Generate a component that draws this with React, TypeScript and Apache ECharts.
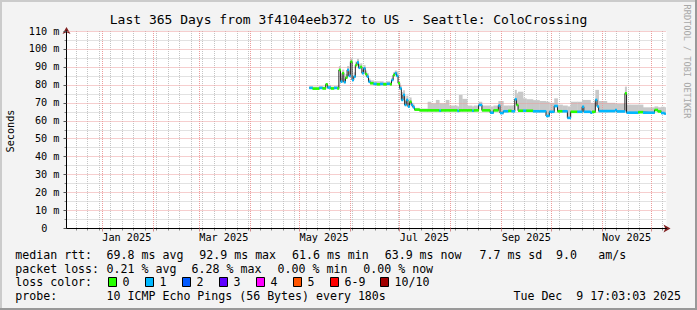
import React, { useEffect, useRef } from 'react';
import * as echarts from 'echarts';

// ---------- time frame (days counted from 2025-01-01, UTC) ----------
const DAY_MS = 86400000;
const T0 = Date.UTC(2025, 0, 1);
const X_START_DAY = -21.7;
const X_SPAN_DAYS = 365;
const DATA_END_DAY = 342.71;

const monthStartDays = [0, 31, 59, 90, 120, 151, 181, 212, 243, 273, 304, 334];
const monthLabelDays = [0, 59, 120, 181, 243, 304];
const monthLabels = ['Jan 2025', 'Mar 2025', 'May 2025', 'Jul 2025', 'Sep 2025', 'Nov 2025'];
const firstWeekDay = -16;
const yMinorTicks = [5, 15, 25, 35, 45, 55, 65, 75, 85, 95, 105];

// ---------- samples: start day of each segment, median rtt (ms), loss level, smoke top (ms) ----------
const segDay = [
  126, 128, 132, 134, 136, 137, 139, 141, 143, 144, 145, 146, 147, 148, 149, 150, 151, 152, 153, 154,
  155, 156, 157, 158, 159, 160, 161, 162, 163, 165, 167, 169, 171, 173, 175, 176, 177, 178, 179, 180,
  181, 182, 183, 184, 185, 186, 187, 188, 189, 190,
  193, 198, 200, 203, 205, 206, 209, 211, 216, 217, 219, 222, 225, 226, 229, 231, 236, 238, 241, 242,
  244, 247, 249, 251, 252, 253, 256, 258, 262, 266, 270, 272, 275, 277, 280, 283, 285, 289, 292, 293,
  297, 298, 300, 301, 302, 307, 312, 313, 318, 319, 321, 326, 329, 336, 338, 340, 342,
];
const medianMs = [
  78.3, 77.9, 78.3, 78.0, 80.3, 78.5, 78.0, 78.3, 78.0, 88.3, 81.8, 86.5, 81.5, 84.0, 88.3, 85.0, 92.9, 82.7, 84.6, 91.0,
  92.5, 89.5, 90.0, 86.5, 89.2, 86.0, 84.6, 81.8, 80.9, 80.5, 80.3, 80.5, 80.3, 80.6, 80.3, 82.7, 85.5, 86.5, 85.0, 80.9,
  78.0, 71.6, 74.4, 68.8, 71.6, 67.9, 70.6, 68.8, 67.5, 66.2,
  65.8, 65.8, 65.8, 65.8, 65.6, 65.8, 65.8, 65.8, 65.5, 65.8, 65.8, 65.8, 65.6, 65.8, 68.8, 65.8, 64.5, 65.8, 68.5, 64.3,
  65.3, 65.5, 65.3, 72.0, 68.8, 65.6, 65.6, 65.6, 65.3, 65.3, 62.7, 65.0, 68.2, 65.3, 65.3, 61.6, 65.0, 65.0, 67.8, 65.0,
  64.5, 65.0, 71.6, 68.0, 65.4, 65.4, 66.0, 65.2, 75.3, 64.5, 64.5, 64.8, 64.5, 66.0, 65.2, 64.3, 63.9,
];
const lossLevel = [
  1, 0, 1, 0, 0, 1, 0, 1, 0, 0, 1, 0, 1, 0, 1, 1, 0, 1, 1, 0,
  1, 1, 0, 1, 1, 0, 1, 1, 0, 1, 0, 1, 0, 1, 0, 1, 0, 1, 1, 0,
  1, 1, 1, 1, 1, 1, 0, 1, 1, 0,
  0, 0, 0, 0, 1, 0, 0, 0, 1, 0, 0, 0, 1, 0, 1, 0, 1, 0, 1, 1,
  1, 0, 1, 1, 0, 0, 1, 0, 1, 1, 1, 1, 1, 0, 1, 1, 0, 1, 1, 1,
  1, 0, 1, 1, 1, 1, 1, 1, 0, 1, 1, 0, 1, 0, 0, 1, 1,
];
const smokeTopMs = [
  79.2, 79.0, 79.2, 79.0, 81.0, 80.0, 79.0, 79.2, 79.5, 90.5, 84.0, 88.5, 83.5, 86.0, 90.5, 87.5, 95.0, 85.0, 87.0, 93.0,
  94.5, 91.5, 92.0, 88.5, 91.0, 88.0, 86.5, 83.5, 82.5, 82.0, 82.0, 82.0, 81.5, 82.0, 81.5, 84.0, 87.0, 88.0, 87.5, 82.0,
  79.5, 76.0, 77.0, 71.0, 74.0, 70.0, 73.0, 70.0, 69.0, 67.2,
  66.8, 70.6, 69.7, 71.6, 69.7, 69.7, 71.6, 68.5, 68.0, 74.4, 72.2, 68.5, 68.0, 68.5, 70.6, 68.5, 68.0, 68.5, 71.0, 71.0,
  68.5, 68.5, 68.5, 77.2, 75.3, 76.2, 72.5, 72.0, 71.5, 71.0, 70.6, 70.0, 72.5, 69.0, 68.5, 68.0, 70.6, 70.6, 71.6, 71.6,
  70.0, 70.0, 77.2, 77.2, 71.0, 70.0, 69.5, 69.5, 79.0, 69.0, 69.0, 69.0, 67.5, 68.0, 67.5, 67.8, 67.5,
];

const lossColors = ['#26ff00', '#00b8ff', '#0059ff', '#5e00ff', '#ff00ff', '#ff5500', '#ff0000', '#a10000'];
const lossNames = ['0', '1', '2', '3', '4', '5', '6-9', '10/10'];

const FONT = "'DejaVu Sans Mono', monospace";
const MINOR_GRID = '#c4c4c4';
const MAJOR_GRID = '#ec9c9c';

const dayToMs = (d: number) => T0 + d * DAY_MS;

function App() {
  const ref = useRef<HTMLDivElement>(null);

  useEffect(() => {
    document.body.style.margin = '0';
    const chart = echarts.init(ref.current!, undefined, { renderer: 'svg' });

    const xMin = dayToMs(X_START_DAY);
    const xMax = dayToMs(X_START_DAY + X_SPAN_DAYS);
    const monthValues = monthStartDays.map(dayToMs);
    const labelValues = monthLabelDays.map((d) => dayToMs(d + 15));
    const weekValues: number[] = [];
    for (let d = firstWeekDay; d < X_START_DAY + X_SPAN_DAYS; d += 7) weekValues.push(dayToMs(d));

    const segs = segDay.map((d, i) => ({
      start: dayToMs(d),
      end: dayToMs(i + 1 < segDay.length ? segDay[i + 1] : DATA_END_DAY),
      med: medianMs[i],
      loss: lossLevel[i],
      top: smokeTopMs[i],
    }));

    const smokeData = segs.map((s) => [s.start, s.end, s.med - 0.6, s.top]);
    const lossData = segs.map((s) => [s.start, s.end, s.med, s.loss]);
    const medianData = segs.map((s) => [s.start, s.med]);
    medianData.push([segs[segs.length - 1].end, segs[segs.length - 1].med]);

    const text = (x: number, y: number, t: string, size: number, extra: any = {}) => ({
      type: 'text',
      x,
      y,
      silent: true,
      rotation: extra.rotation || 0,
      style: {
        text: t,
        fill: extra.fill || '#000',
        fontSize: size,
        fontFamily: FONT,
        textAlign: extra.align || 'left',
        textVerticalAlign: 'middle',
      },
    });

    const LG = 11.6;
    const rows = [254.5, 268.5, 282, 296];
    const legendTexts: any[] = [
      text(15.3, rows[0], 'median rtt:', LG),
      text(106.6, rows[0], '69.8 ms avg', LG),
      text(199.3, rows[0], '92.9 ms max', LG),
      text(292, rows[0], '61.6 ms min', LG),
      text(384.7, rows[0], '63.9 ms now', LG),
      text(479.5, rows[0], '7.7 ms sd', LG),
      text(556, rows[0], '9.0', LG),
      text(598.3, rows[0], 'am/s', LG),
      text(15.3, rows[1], 'packet loss:', LG),
      text(106.6, rows[1], '0.21 % avg', LG),
      text(191.6, rows[1], '6.28 % max', LG),
      text(277.6, rows[1], '0.00 % min', LG),
      text(363.3, rows[1], '0.00 % now', LG),
      text(15.3, rows[2], 'loss color:', LG),
      text(15.3, rows[3], 'probe:', LG),
      text(106.6, rows[3], '10 ICMP Echo Pings (56 Bytes) every 180s', LG),
      text(681, rows[3], 'Tue Dec  9 17:03:03 2025', LG, { align: 'right' }),
    ];
    const swatchX = [108.5, 145.5, 182.5, 219.5, 256.5, 293.5, 330.5, 380.5];
    swatchX.forEach((sx, i) => {
      legendTexts.push({
        type: 'rect',
        silent: true,
        shape: { x: sx, y: 277.5, width: 8, height: 9 },
        style: { fill: lossColors[i], stroke: '#000', lineWidth: 1 },
      });
      legendTexts.push(text(sx + 14, rows[2], lossNames[i], LG));
    });

    const option: any = {
      animation: false,
      backgroundColor: '#f3f3f3',
      grid: {
        left: 66.5,
        right: 30.5,
        top: 31,
        bottom: 81.5,
        show: true,
        backgroundColor: '#ffffff',
        borderWidth: 0,
      },
      xAxis: [
        {
          type: 'value',
          min: xMin,
          max: xMax,
          position: 'bottom',
          z: 3,
          axisLine: { show: true, lineStyle: { color: '#000', width: 1 } },
          axisTick: { show: true, customValues: monthValues, length: 3, lineStyle: { color: '#d08a8a' } },
          axisLabel: {
            show: true,
            customValues: labelValues,
            formatter: (v: number) => {
              const i = labelValues.findIndex((lv) => Math.abs(lv - v) < 1000);
              return i >= 0 ? monthLabels[i] : '';
            },
            fontFamily: FONT,
            fontSize: 10.2,
            color: '#000',
            margin: 4,
          },
          splitLine: { show: true, lineStyle: { color: MAJOR_GRID, width: 1, type: [1, 1] } },
        },
        {
          type: 'value',
          min: xMin,
          max: xMax,
          position: 'bottom',
          z: 1,
          axisLine: {
            show: true,
            symbol: ['none', 'arrow'],
            symbolSize: [6, 7],
            symbolOffset: [0, 4],
            lineStyle: { color: '#7f1f1f', width: 0 },
          },
          axisTick: { show: true, customValues: weekValues, length: 2, lineStyle: { color: '#888' } },
          axisLabel: { show: false },
          splitLine: { show: true, lineStyle: { color: MINOR_GRID, width: 1, type: [1, 1] } },
        },
      ],
      yAxis: [
        {
          type: 'value',
          min: 0,
          max: 110,
          interval: 10,
          position: 'left',
          z: 3,
          axisLine: { show: true, lineStyle: { color: '#000', width: 1 } },
          axisTick: { show: true, length: 3, lineStyle: { color: '#555' } },
          splitLine: { show: true, lineStyle: { color: MAJOR_GRID, width: 1, type: [1, 1] } },
          axisLabel: {
            formatter: (v: number) => (v === 0 ? '{z|0}' : `${v} m`),
            fontFamily: FONT,
            fontSize: 10.2,
            color: '#000',
            margin: 7,
            rich: { z: { fontFamily: FONT, fontSize: 10.2, color: '#000', padding: [0, 12, 0, 0] } },
          },
        },
        {
          type: 'value',
          min: 0,
          max: 110,
          position: 'left',
          z: 1,
          axisLine: {
            show: true,
            symbol: ['none', 'arrow'],
            symbolSize: [6, 7],
            symbolOffset: [0, 4],
            lineStyle: { color: '#7f1f1f', width: 0 },
          },
          axisTick: { show: true, customValues: yMinorTicks, length: 2, lineStyle: { color: '#888' } },
          axisLabel: { show: false },
          splitLine: { show: true, lineStyle: { color: MINOR_GRID, width: 1, type: [1, 1] } },
        },
      ],
      series: [
        {
          name: 'smoke',
          type: 'custom',
          z: 2,
          silent: true,
          encode: { x: [0, 1], y: [2, 3] },
          data: smokeData,
          renderItem: (_p: any, api: any) => {
            const a = api.coord([api.value(0), api.value(3)]);
            const b = api.coord([api.value(1), api.value(2)]);
            return {
              type: 'rect',
              shape: { x: a[0], y: a[1], width: b[0] - a[0] + 0.4, height: b[1] - a[1] },
              style: { fill: '#c8c8c8' },
            };
          },
        },
        {
          name: 'median',
          type: 'line',
          z: 3,
          silent: true,
          step: 'end',
          symbol: 'none',
          data: medianData,
          lineStyle: { color: '#202020', width: 1 },
        },
        {
          name: 'loss',
          type: 'custom',
          z: 4,
          silent: true,
          encode: { x: [0, 1], y: 2 },
          data: lossData,
          renderItem: (_p: any, api: any) => {
            const a = api.coord([api.value(0), api.value(2)]);
            const b = api.coord([api.value(1), api.value(2)]);
            return {
              type: 'rect',
              shape: { x: a[0], y: a[1] - 1.3, width: b[0] - a[0] + 0.3, height: 2.6 },
              style: { fill: lossColors[api.value(3)] },
            };
          },
        },
      ],
      graphic: [
        { type: 'rect', silent: true, shape: { x: 0, y: 0, width: 697, height: 2 }, style: { fill: '#cbcbcb' } },
        { type: 'rect', silent: true, shape: { x: 0, y: 0, width: 2, height: 310 }, style: { fill: '#cbcbcb' } },
        { type: 'rect', silent: true, shape: { x: 0, y: 308, width: 697, height: 2 }, style: { fill: '#999999' } },
        { type: 'rect', silent: true, shape: { x: 695, y: 0, width: 2, height: 310 }, style: { fill: '#999999' } },
        text(348.5, 19.5, 'Last 365 Days from 3f4104eeb372 to US - Seattle: ColoCrossing', 13, { align: 'center' }),
        text(10, 131, 'Seconds', 10.2, { align: 'center', rotation: Math.PI / 2 }),
        text(687, 61.5, 'RRDTOOL / TOBI OETIKER', 8.6, { align: 'center', rotation: -Math.PI / 2, fill: '#a8a8a8' }),
        ...legendTexts,
      ],
    };

    chart.setOption(option);
    return () => chart.dispose();
  }, []);

  return <div ref={ref} style={{ position: 'absolute', left: 0, top: 0, width: 697, height: 310 }} />;
}

export default App;
